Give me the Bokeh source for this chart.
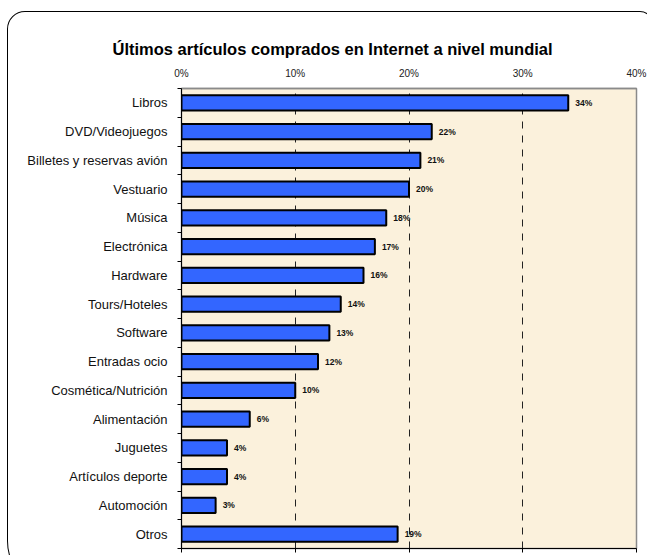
from bokeh.plotting import figure
from bokeh.models import (ColumnDataSource, FixedTicker, LinearAxis, Range1d,
                          InlineStyleSheet)
from bokeh.embed import file_html
from bokeh.resources import INLINE
from bokeh.core.properties import value

categories = ["Libros", "DVD/Videojuegos", "Billetes y reservas avión", "Vestuario",
              "Música", "Electrónica", "Hardware", "Tours/Hoteles", "Software",
              "Entradas ocio", "Cosmética/Nutrición", "Alimentación", "Juguetes",
              "Artículos deporte", "Automoción", "Otros"]
values = [34, 22, 21, 20, 18, 17, 16, 14, 13, 12, 10, 6, 4, 4, 3, 19]
x_ticks = [0, 10, 20, 30, 40]
tick_labels = ["0%", "10%", "20%", "30%", "40%"]
grid_ticks = [10, 20, 30]
title_text = "Últimos artículos comprados en Internet a nivel mundial"

FONT = "Liberation Sans"
n = len(categories)
ypos = [n - i - 0.5 for i in range(n)]
labels = [f"{v}%" for v in values]
src = ColumnDataSource(dict(cat=categories, val=values, y=ypos, lab=labels))

p = figure(width=647, height=555, output_backend="svg", toolbar_location=None,
           x_range=Range1d(0, 40), y_range=Range1d(0, n),
           min_border_left=181, min_border_right=11, min_border_top=88,
           min_border_bottom=7)

p.background_fill_color = "#FBF1DC"
p.border_fill_color = "white"
p.outline_line_color = "#8a8a8a"
p.outline_line_width = 1.5

# title
p.title.text = title_text
p.title.text_font = FONT
p.title.text_font_style = "bold"
p.title.text_font_size = "16.5px"
p.title.text_color = "black"
p.title.align = "left"
p.title.offset = -69
p.title.standoff = 13

# grid
p.ygrid.visible = False
p.xgrid.ticker = FixedTicker(ticks=grid_ticks)
p.xgrid.grid_line_color = "#222222"
p.xgrid.grid_line_dash = "7 7"
p.xgrid.grid_line_width = 1

# bottom axis (tick marks only, no labels)
xa = p.xaxis[0]
xa.ticker = FixedTicker(ticks=[], minor_ticks=x_ticks)
xa.major_tick_out = 0
xa.major_tick_in = 0
xa.minor_tick_out = 4
xa.minor_tick_in = 0
xa.major_label_standoff = 0
xa.axis_line_color = "black"
xa.minor_tick_line_color = "black"

# top axis with labels
top = LinearAxis(ticker=FixedTicker(ticks=x_ticks),
                 major_label_overrides={t: l for t, l in zip(x_ticks, tick_labels)})
top.major_tick_out = 0
top.major_tick_in = 0
top.minor_tick_out = 0
top.minor_tick_in = 0
top.axis_line_color = "#8a8a8a"
top.axis_line_width = 1.5
top.major_label_text_font = FONT
top.major_label_text_font_size = "10px"
top.major_label_text_color = "#222222"
top.major_label_standoff = 10
p.add_layout(top, "above")

# left axis: labels at band centres, ticks at band boundaries
ya = p.yaxis[0]
ya.ticker = FixedTicker(ticks=ypos, minor_ticks=list(range(n + 1)))
ya.major_label_overrides = {y: c for y, c in zip(ypos, categories)}
ya.major_tick_out = 0
ya.major_tick_in = 0
ya.minor_tick_out = 4
ya.minor_tick_in = 0
ya.minor_tick_line_color = "black"
ya.axis_line_color = "black"
ya.major_label_text_font = FONT
ya.major_label_text_font_size = "13px"
ya.major_label_text_color = "#111111"
ya.major_label_standoff = 10

# bars
p.hbar(y="y", left=0, right="val", height=0.53, source=src,
       fill_color="#3366FF", line_color="black", line_width=2)

# value labels
p.text(x="val", y="y", text="lab", source=src, x_offset=7,
       text_font=value(FONT), text_font_style="bold", text_font_size="8.5px",
       text_baseline="middle", text_align="left", text_color="#111111")

# rounded outer frame around the whole chart
css = """
:host { position: relative; overflow: hidden; }
:host::after {
  content: ""; position: absolute; left: 7px; top: 11px;
  width: 646px; height: 570px; box-sizing: border-box;
  border: 1.3px solid black;
  border-radius: 18px 13px 18px 30px / 18px 13px 18px 40px;
  pointer-events: none; z-index: 100;
}
"""
p.stylesheets = [InlineStyleSheet(css=css)]

open("out.html", "w").write(file_html(p, INLINE))
